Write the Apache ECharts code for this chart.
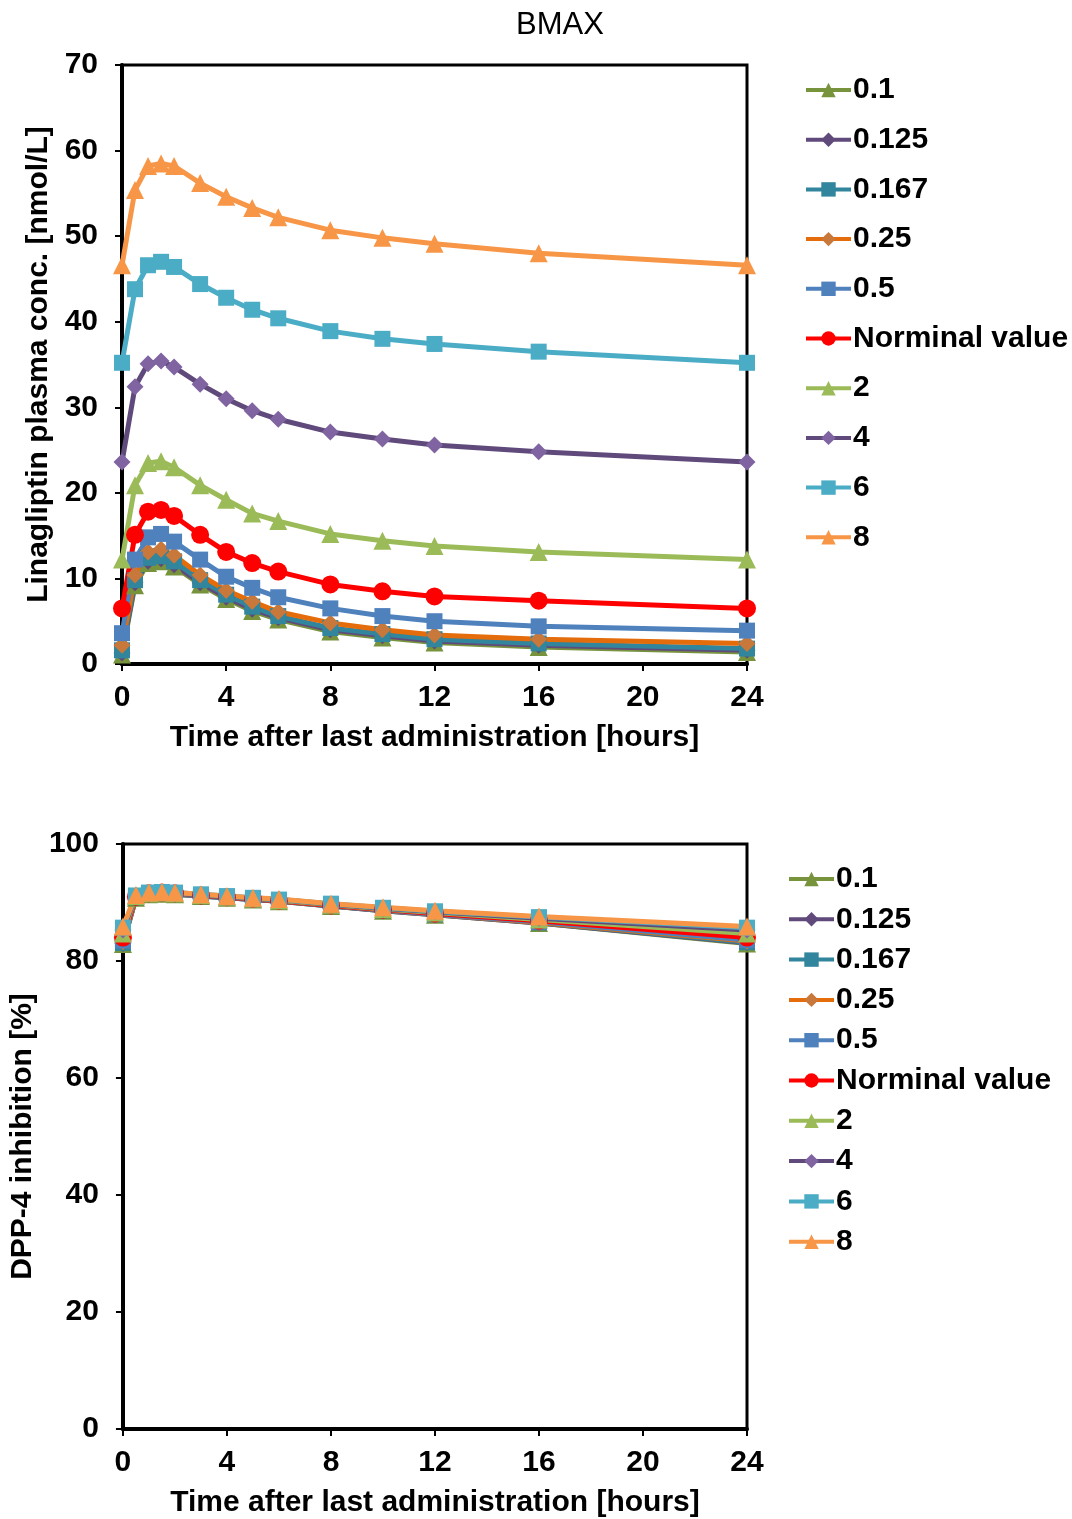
<!DOCTYPE html>
<html>
<head>
<meta charset="utf-8">
<script src="https://cdn.jsdelivr.net/npm/echarts@6/dist/echarts.min.js"></script>
<style>
  html, body { margin: 0; padding: 0; background: #fff; }
  #chart { width: 1072px; height: 1519px; }
</style>
</head>
<body>
<div id="chart"></div>
<script>
const hours = [0, 0.5, 1, 1.5, 2, 3, 4, 5, 6, 8, 10, 12, 16, 24];
const doseLabels = ["0.1", "0.125", "0.167", "0.25", "0.5", "Norminal value", "2", "4", "6", "8"];

// Linagliptin plasma concentration [nmol/L]
const conc01 = [1.1, 9.2, 11.8, 12.0, 11.4, 9.3, 7.6, 6.2, 5.2, 3.8, 3.1, 2.5, 2.0, 1.4];
const conc0125 = [1.3, 9.5, 12.0, 12.3, 11.6, 9.5, 7.8, 6.4, 5.4, 4.0, 3.3, 2.7, 2.2, 1.6];
const conc0167 = [1.6, 9.8, 12.4, 12.6, 12.0, 9.8, 8.1, 6.7, 5.6, 4.2, 3.5, 2.9, 2.4, 1.8];
const conc025 = [2.2, 10.4, 13.1, 13.4, 12.7, 10.4, 8.6, 7.3, 6.1, 4.8, 4.0, 3.4, 2.9, 2.4];
const conc05 = [3.6, 12.2, 14.8, 15.2, 14.3, 12.2, 10.2, 8.9, 7.8, 6.5, 5.6, 5.0, 4.4, 3.9];
const concNominal = [6.5, 15.1, 17.8, 18.0, 17.3, 15.1, 13.1, 11.8, 10.8, 9.3, 8.5, 7.9, 7.4, 6.5];
const conc2 = [12.2, 20.9, 23.5, 23.7, 23.0, 20.9, 19.2, 17.6, 16.7, 15.2, 14.4, 13.8, 13.1, 12.2];
const conc4 = [23.6, 32.4, 35.1, 35.4, 34.7, 32.7, 31.0, 29.6, 28.6, 27.1, 26.3, 25.6, 24.8, 23.6];
const conc6 = [35.2, 43.8, 46.6, 47.0, 46.4, 44.4, 42.8, 41.4, 40.4, 38.9, 38.0, 37.4, 36.5, 35.2];
const conc8 = [46.6, 55.4, 58.2, 58.5, 58.2, 56.2, 54.6, 53.3, 52.2, 50.7, 49.8, 49.1, 48.0, 46.6];

// DPP-4 inhibition [%]
const inh01 = [82.9, 90.8, 91.4, 91.5, 91.4, 91.1, 90.8, 90.5, 90.2, 89.4, 88.6, 87.9, 86.5, 83.0];
const inh0125 = [83.0, 90.8, 91.4, 91.5, 91.4, 91.1, 90.8, 90.5, 90.2, 89.4, 88.6, 87.9, 86.5, 83.1];
const inh0167 = [83.1, 90.9, 91.5, 91.6, 91.5, 91.1, 90.8, 90.5, 90.3, 89.4, 88.7, 88.0, 86.6, 83.2];
const inh025 = [83.3, 90.9, 91.5, 91.6, 91.5, 91.2, 90.9, 90.6, 90.3, 89.5, 88.7, 88.0, 86.6, 83.4];
const inh05 = [83.5, 91.0, 91.5, 91.6, 91.5, 91.2, 90.9, 90.6, 90.3, 89.5, 88.7, 88.0, 86.7, 83.6];
const inhNominal = [84.0, 91.0, 91.6, 91.7, 91.6, 91.2, 90.9, 90.6, 90.3, 89.5, 88.8, 88.1, 86.9, 84.0];
const inh2 = [84.7, 91.1, 91.6, 91.7, 91.6, 91.3, 91.0, 90.7, 90.4, 89.6, 88.9, 88.3, 87.1, 84.7];
const inh4 = [85.3, 91.2, 91.6, 91.7, 91.6, 91.3, 91.0, 90.7, 90.5, 89.7, 89.0, 88.4, 87.3, 85.3];
const inh6 = [85.7, 91.2, 91.7, 91.8, 91.7, 91.4, 91.1, 90.8, 90.5, 89.8, 89.1, 88.5, 87.5, 85.7];
const inh8 = [85.9, 91.3, 91.7, 91.8, 91.7, 91.4, 91.1, 90.8, 90.6, 89.8, 89.2, 88.6, 87.6, 85.9];

const concValues = [conc01, conc0125, conc0167, conc025, conc05, concNominal, conc2, conc4, conc6, conc8];
const inhValues = [inh01, inh0125, inh0167, inh025, inh05, inhNominal, inh2, inh4, inh6, inh8];

const styles = [
  { line: "#77933C", marker: "#77933C", symbol: "triangle", size: 18 },
  { line: "#604A7B", marker: "#604A7B", symbol: "diamond", size: 17 },
  { line: "#31859C", marker: "#31859C", symbol: "rect", size: 16 },
  { line: "#E46C0A", marker: "#C8783A", symbol: "diamond", size: 17 },
  { line: "#4F81BD", marker: "#4F81BD", symbol: "rect", size: 16 },
  { line: "#FF0000", marker: "#FF0000", symbol: "circle", size: 18 },
  { line: "#9BBB59", marker: "#9BBB59", symbol: "triangle", size: 18 },
  { line: "#604A7B", marker: "#8064A2", symbol: "diamond", size: 17 },
  { line: "#4BACC6", marker: "#4BACC6", symbol: "rect", size: 16 },
  { line: "#F79646", marker: "#F79646", symbol: "triangle", size: 18 },
];

const font = "Liberation Sans, Arial, sans-serif";
const boldText = { color: "#000", fontFamily: font, fontSize: 30, fontWeight: "bold" };

const makeSeries = (values, gridIndex) =>
  values.map((vals, i) => ({
    name: doseLabels[i],
    type: "line",
    xAxisIndex: gridIndex,
    yAxisIndex: gridIndex,
    data: vals.map((v, j) => [hours[j], v]),
    symbol: styles[i].symbol,
    symbolSize: styles[i].size,
    clip: false,
    lineStyle: { color: styles[i].line, width: 5 },
    itemStyle: { color: styles[i].marker },
    emphasis: { disabled: true },
  }));

const makeXAxis = (gridIndex) => ({
  type: "value",
  gridIndex,
  min: 0,
  max: 24,
  interval: 4,
  name: "Time after last administration [hours]",
  nameLocation: "middle",
  nameGap: 59,
  nameTextStyle: boldText,
  axisLine: { lineStyle: { color: "#000", width: 4 } },
  axisTick: { show: true, length: 7, lineStyle: { color: "#000", width: 2 } },
  axisLabel: { ...boldText, margin: 19 },
  splitLine: { show: false },
});

const makeYAxis = (gridIndex, max, interval, name, nameGap) => ({
  type: "value",
  gridIndex,
  min: 0,
  max,
  interval,
  name,
  nameLocation: "middle",
  nameGap,
  nameTextStyle: boldText,
  axisLine: { show: true, lineStyle: { color: "#000", width: 4 } },
  axisTick: { show: true, length: 7, lineStyle: { color: "#000", width: 2 } },
  axisLabel: { ...boldText, margin: 24 },
  splitLine: { show: false },
});

const makeLegend = (left, top, gap) => ({
  left,
  top,
  orient: "vertical",
  itemWidth: 45,
  itemHeight: 18,
  itemGap: gap,
  lineStyle: { width: 4 },
  textStyle: { ...boldText, lineHeight: 30, padding: [0, 0, 0, -3] },
  data: doseLabels,
  selectedMode: false,
});

const chart = echarts.init(document.getElementById("chart"), null, { renderer: "canvas" });

chart.setOption({
  animation: false,
  backgroundColor: "#fff",
  title: {
    text: "BMAX",
    left: 511,
    top: 5,
    textStyle: { color: "#000", fontFamily: font, fontSize: 31, fontWeight: "normal" },
  },
  grid: [
    { left: 122, right: 325, top: 65, height: 599, show: true, borderColor: "#000", borderWidth: 3 },
    { left: 122, right: 325, top: 844, height: 587, show: true, borderColor: "#000", borderWidth: 3 },
  ],
  xAxis: [makeXAxis(0), makeXAxis(1)],
  yAxis: [
    makeYAxis(0, 70, 10, "Linagliptin plasma conc. [nmol/L]", 64),
    makeYAxis(1, 100, 20, "DPP-4 inhibition [%]", 80),
  ],
  legend: [makeLegend(799, 70, 19.7), makeLegend(782, 859, 10.3)],
  series: [...makeSeries(concValues, 0), ...makeSeries(inhValues, 1)],
});
</script>
</body>
</html>
